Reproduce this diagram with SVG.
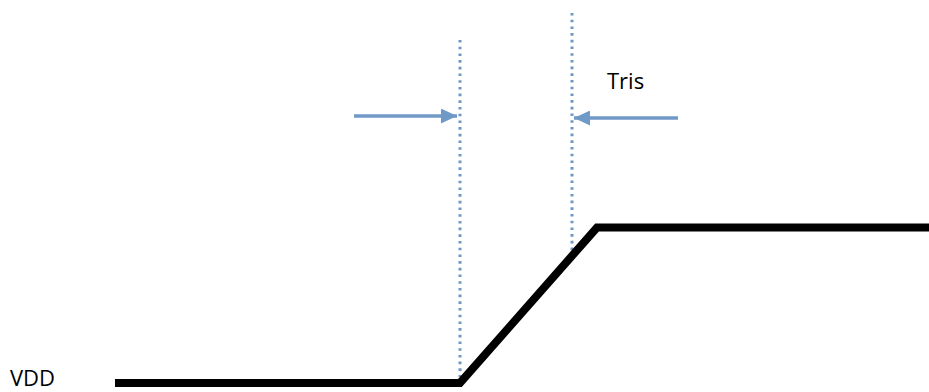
<svg xmlns="http://www.w3.org/2000/svg" width="929" height="392" viewBox="0 0 929 392">
<style>
.dot{stroke:#6f98c5;stroke-width:3;stroke-dasharray:2.6 4.1;fill:none}
.arr{stroke:#6f99c6;stroke-width:3.5;fill:none}
.sig{stroke:#000;stroke-width:8;fill:none;stroke-linejoin:miter}
.lbl{font-family:"Open Sans","DejaVu Sans",sans-serif;font-size:22px;fill:#000}
</style>
<defs>
<marker id="ah" markerWidth="16" markerHeight="15" refX="16" refY="7.5" orient="auto" markerUnits="userSpaceOnUse">
<path d="M0,0 L16,7.5 L0,15 Z" fill="#6f99c6"/>
</marker>
</defs>
<rect width="929" height="392" fill="#fff"/>
<g id="connectors">
<line class="dot" x1="460" y1="40" x2="460" y2="377"/>
<line class="dot" x1="572" y1="13" x2="572" y2="256"/>
<line class="arr" x1="354" y1="116" x2="457" y2="116" marker-end="url(#ah)"/>
<line class="arr" x1="678" y1="118" x2="574" y2="118" marker-end="url(#ah)"/>
</g>
<g id="signal">
<polyline class="sig" points="115,383 460,383 597,227.5 929,227.5"/>
</g>
<g id="label-vdd"><text class="lbl" x="10" y="386">VDD</text></g>
<g id="label-tris"><text class="lbl" x="607" y="89">Tris</text></g>
</svg>
